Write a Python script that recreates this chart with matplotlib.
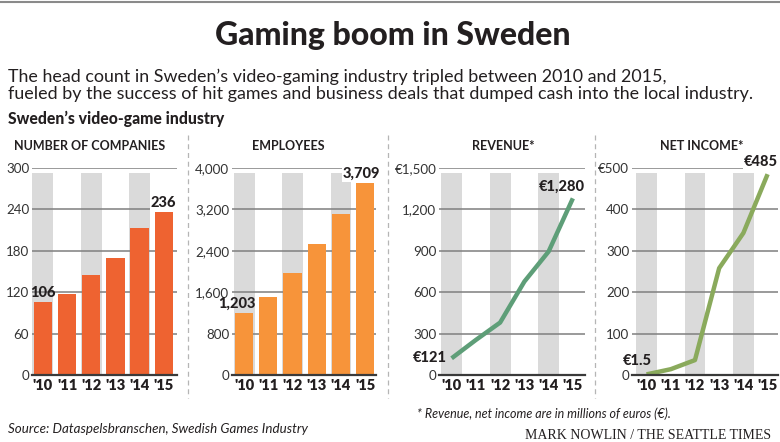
import matplotlib
matplotlib.use("Agg")
import matplotlib.pyplot as plt
from matplotlib.lines import Line2D

plt.rcParams['font.family'] = ['Lato', 'DejaVu Sans']

# ---------------- data ----------------
years = ["'10", "'11", "'12", "'13", "'14", "'15"]
companies = [106, 117, 145, 170, 213, 236]
employees = [1203, 1516, 1968, 2535, 3116, 3709]
revenue = [121, 254, 380, 677, 895, 1280]
net_income = [1.5, 14, 36, 258, 343, 485]

companies_ticks = [0, 60, 120, 180, 240, 300]
companies_ticklabels = ["0", "60", "120", "180", "240", "300"]
employees_ticks = [0, 800, 1600, 2400, 3200, 4000]
employees_ticklabels = ["0", "800", "1,600", "2,400", "3,200", "4,000"]
revenue_ticks = [0, 300, 600, 900, 1200, 1500]
revenue_ticklabels = ["0", "300", "600", "900", "1,200", "€1,500"]
income_ticks = [0, 100, 200, 300, 400, 500]
income_ticklabels = ["0", "100", "200", "300", "400", "€500"]

panel_titles = ["NUMBER OF COMPANIES", "EMPLOYEES", "REVENUE*", "NET INCOME*"]

# ---------------- style ----------------
W, H = 780, 442
DARK = "#231f20"
GRID = "#7f7f7f"
STRIPE = "#dadada"
C_COMP = "#ee6331"
C_EMP = "#f7943a"
C_REV = "#5e9e78"
C_INC = "#8aaa5c"

fig = plt.figure(figsize=(W / 100, H / 100), dpi=100)
fig.patch.set_facecolor("white")


def px_rect(x0, x1, ytop, ybot):
    return [x0 / W, 1 - ybot / H, (x1 - x0) / W, (ybot - ytop) / H]


def fx(x):
    return x / W


def fy(y):
    return 1 - y / H


# top rule
fig.add_artist(Line2D([0, 1], [fy(2), fy(2)], color="#8a8a8a", lw=1.5))

fig.text(fx(393), fy(45), "Gaming boom in Sweden", ha="center", va="baseline",
         fontsize=23, fontweight="black", color=DARK)
fig.text(fx(8), fy(82), "The head count in Sweden\u2019s video-gaming industry tripled between 2010 and 2015,",
         ha="left", va="baseline", fontsize=12.85, color=DARK)
fig.text(fx(8), fy(99), "fueled by the success of hit games and business deals that dumped cash into the local industry.",
         ha="left", va="baseline", fontsize=12.85, color=DARK)
fig.text(fx(8), fy(124), "Sweden\u2019s video-game industry", ha="left", va="baseline",
         fontsize=11.3, fontweight="black", color=DARK)

fig.text(fx(8), fy(433), "Source: Dataspelsbranschen, Swedish Games Industry", ha="left",
         va="baseline", fontsize=9.6, style="italic", color=DARK)
fig.text(fx(417), fy(418), "* Revenue, net income are in millions of euros (\u20ac).", ha="left",
         va="baseline", fontsize=9, style="italic", color=DARK)
fig.text(fx(771), fy(439), "MARK NOWLIN / THE SEATTLE TIMES", ha="right", va="baseline",
         fontsize=10, family=["Liberation Serif", "DejaVu Serif"], color=DARK)

# dashed separators
for xs in [188, 388, 595]:
    fig.add_artist(Line2D([fx(xs), fx(xs)], [fy(135), fy(398)], color="#b5b5b5",
                          lw=0.9, linestyle=(0, (4, 3))))

panels = [
    dict(rect=(32, 177), xlim=(-0.45, 5.55), title_x=90, kind="bar", vals=companies,
         color=C_COMP, ticks=companies_ticks, labels=companies_ticklabels),
    dict(rect=(232, 376), xlim=(-0.5, 5.45), title_x=288, kind="bar", vals=employees,
         color=C_EMP, ticks=employees_ticks, labels=employees_ticklabels),
    dict(rect=(439, 585), xlim=(-0.52, 5.5), title_x=503, kind="line", vals=revenue,
         color=C_REV, ticks=revenue_ticks, labels=revenue_ticklabels),
    dict(rect=(632, 778), xlim=(-0.6, 5.43), title_x=702, kind="line", vals=net_income,
         color=C_INC, ticks=income_ticks, labels=income_ticklabels),
]

axes = []
for p, title in zip(panels, panel_titles):
    ax = fig.add_axes(px_rect(p["rect"][0], p["rect"][1], 168, 375))
    axes.append(ax)
    x = list(range(len(years)))
    ymax = p["ticks"][-1]
    ax.set_xlim(*p["xlim"])
    ax.set_ylim(0, ymax)
    # stripes
    for i in [0, 2, 4]:
        ax.bar(i, ymax * 0.975, width=0.86, color=STRIPE, zorder=0, linewidth=0)
    # gridlines
    for t in p["ticks"][1:]:
        ax.axhline(t, color=GRID, lw=1.1, zorder=1)
    if p["kind"] == "bar":
        ax.bar(x, p["vals"], width=0.76, color=p["color"], zorder=2, linewidth=0)
    else:
        ax.plot(x, p["vals"], color=p["color"], lw=3.2, zorder=2,
                solid_capstyle="butt", solid_joinstyle="round")
    for s in ["top", "right", "left"]:
        ax.spines[s].set_visible(False)
    ax.spines["bottom"].set_color("#3a3a3a")
    ax.spines["bottom"].set_linewidth(1.6)
    ax.spines["bottom"].set_zorder(3)
    ax.set_yticks(p["ticks"])
    ax.set_yticklabels(p["labels"])
    ax.set_xticks(x)
    ax.set_xticklabels(years)
    ax.tick_params(axis="y", length=0, pad=2, labelsize=9.6, labelcolor="#333333")
    ax.tick_params(axis="x", length=0, pad=3, labelsize=10.5, labelcolor=DARK)
    for lab in ax.get_xticklabels():
        lab.set_fontweight("heavy")
    ax.patch.set_alpha(0)
    fig.text(fx(p["title_x"]), fy(150), title, ha="center", va="baseline",
             fontsize=9, fontweight="bold", color=DARK)

bbox_w = dict(boxstyle="square,pad=0.05", fc="white", ec="none")
lab_kw = dict(fontsize=10.5, fontweight="black", color=DARK, zorder=5,
              textcoords="offset pixels")

# companies labels
a = axes[0]
a.annotate(f"{companies[0]:,}", (0, companies[0]), xytext=(0, 2), ha="center", va="bottom", **lab_kw)
a.annotate(f"{companies[-1]:,}", (5, companies[-1]), xytext=(0, 2), ha="center", va="bottom",
           bbox=bbox_w, **lab_kw)
# employees labels
a = axes[1]
a.annotate(f"{employees[0]:,}", (0, employees[0]), xytext=(-7, 2), ha="center", va="bottom", **lab_kw)
a.annotate(f"{employees[-1]:,}", (5, employees[-1]), xytext=(-4, 2), ha="center", va="bottom",
           bbox=bbox_w, **lab_kw)
# revenue labels
a = axes[2]
a.annotate(f"\u20ac{revenue[0]:,}", (0, revenue[0]), xytext=(-5, 0), ha="right", va="center", **lab_kw)
a.annotate(f"\u20ac{revenue[-1]:,}", (5, revenue[-1]), xytext=(-11, 5), ha="center", va="bottom", **lab_kw)
# net income labels
a = axes[3]
a.annotate(f"\u20ac{net_income[0]}", (0, net_income[0]), xytext=(-9, 6), ha="center", va="bottom", **lab_kw)
a.annotate(f"\u20ac{net_income[-1]:,}", (5, net_income[-1]), xytext=(-7, 5), ha="center", va="bottom",
           bbox=bbox_w, **lab_kw)

fig.savefig("out.png", dpi=100, facecolor="white")
